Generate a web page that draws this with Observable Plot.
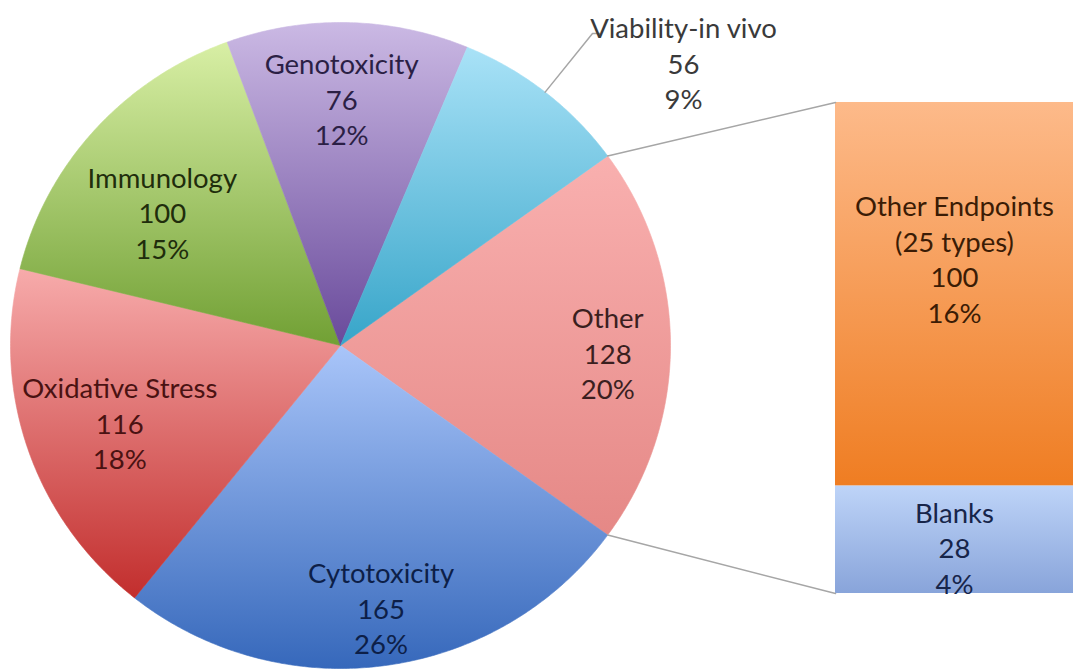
<!DOCTYPE html>
<html><head><meta charset="utf-8">
<script src="https://cdn.jsdelivr.net/npm/d3@7"></script>
<script src="https://cdn.jsdelivr.net/npm/@observablehq/plot@0.6"></script>
<style>body{margin:0;background:#fff;overflow:hidden;}</style>
</head><body><div id="chart"></div>
<script>
// ---------- data ----------
const categories = ["Other", "Cytotoxicity", "Oxidative Stress", "Immunology", "Genotoxicity", "Viability-in vivo"];
const counts = [128, 165, 116, 100, 76, 56];
const percentLabels = ["20%", "26%", "18%", "15%", "12%", "9%"];
const barCategories = ["Other Endpoints\n(25 types)", "Blanks"];
const barCounts = [100, 28];
const barPercentLabels = ["16%", "4%"];

// ---------- styling / layout ----------
const sliceGrad = [["#f9b0af", "#e58886"], ["#a9c5f9", "#3668bb"], ["#f7abab", "#c22e2d"],
                   ["#d8efa5", "#71a034"], ["#cbb9e4", "#694a9b"], ["#a9e2f7", "#37a5c9"]];
const sliceText = ["#3b1f1f", "#0d1f48", "#4a1212", "#1f2d0c", "#2b1f45", "#3a3a3a"];
const barGrad = [["#fdba8a", "#ef7d22"], ["#bed4f8", "#88a4da"]];
const barText = ["#3b1c05", "#17254a"];
// label placement: [radial fraction, angle offset in degrees]; null = outside label
const labelPlace = [[0.81, 1.5], [0.82, -0.9], [0.71, -0.8], [0.68, -4.4], [0.765, -1], null];
const barLabelShift = [-36, 7];
const W = 1073, H = 670;
const cx = 340, cy = 345, rx = 330, ry = 323;
const barX0 = 835, barX1 = 1073, barTop = 102, barBottom = 593;
const font = "Lato, 'Open Sans', sans-serif";
const fontSize = 27.5, lineH = 1.29;

// ---------- geometry from data ----------
const total = d3.sum(counts);
const otherSpan = counts[0] / total * 2 * Math.PI;
const a0 = Math.PI / 2 - otherSpan / 2;
const slices = d3.pie().sort(null).value(d => d.count).startAngle(a0).endAngle(a0 + 2 * Math.PI)(
  categories.map((c, i) => ({name: c, count: counts[i], pct: percentLabels[i], i})));
const pt = (a, r = 1) => ({x: cx + rx * r * Math.sin(a), y: cy - ry * r * Math.cos(a)});

const slicePolys = slices.map(s => {
  const pts = [pt(0, 0)];
  const n = Math.max(2, Math.ceil((s.endAngle - s.startAngle) / (Math.PI / 360)));
  for (let k = 0; k <= n; k++) pts.push(pt(s.startAngle + (s.endAngle - s.startAngle) * k / n));
  pts.push(pt(0, 0));
  return pts;
});

const inLabels = [];
slices.forEach((s, i) => {
  const p = labelPlace[i];
  if (!p) return;
  const mid = (s.startAngle + s.endAngle) / 2 + p[1] * Math.PI / 180;
  const q = pt(mid, p[0]);
  inLabels.push({x: q.x, y: q.y, text: `${s.data.name}\n${s.data.count}\n${s.data.pct}`, color: sliceText[i]});
});

// outside label (Viability-in vivo)
const vs = slices[5];
const vMid = (vs.startAngle + vs.endAngle) / 2;
const vEdge = pt(vMid, 1.0);
const vLabel = {x: 683, y: 62, text: `${vs.data.name}\n${vs.data.count}\n${vs.data.pct}`, color: sliceText[5]};
const leader = [vEdge, {x: vLabel.x - 91, y: vLabel.y - 29}, {x: vLabel.x - 84, y: vLabel.y - 29}];

// bar of "Other"
const barTotal = d3.sum(barCounts);
const by = d3.scaleLinear().domain([0, barTotal]).range([barBottom, barTop]);
const barRows = [];
{
  let cum = 0;
  for (let i = barCounts.length - 1; i >= 0; i--) {
    barRows[i] = {i, y1: by(cum), y2: by(cum + barCounts[i]), x1: barX0, x2: barX1,
      text: `${barCategories[i]}\n${barCounts[i]}\n${barPercentLabels[i]}`, color: barText[i]};
    cum += barCounts[i];
  }
}
const barLabels = barRows.map(r => ({x: (r.x1 + r.x2) / 2, y: (r.y1 + r.y2) / 2 + barLabelShift[r.i], text: r.text, color: r.color}));

const connectors = [
  [pt(slices[0].startAngle), {x: barX0, y: by(barTotal)}],
  [pt(slices[0].endAngle), {x: barX0, y: by(0)}]
];

// ---------- plot ----------
const marks = [];
slicePolys.forEach((poly, i) => {
  marks.push(Plot.line(poly, {x: "x", y: "y", fill: `url(#sg${i})`, stroke: `url(#sg${i})`, strokeWidth: 0.6, curve: "linear"}));
});
barRows.forEach(r => {
  marks.push(Plot.rect([r], {x1: "x1", x2: "x2", y1: "y1", y2: "y2", fill: `url(#bg${r.i})`}));
});
connectors.forEach(c => marks.push(Plot.line(c, {x: "x", y: "y", stroke: "#a6a6a6", strokeWidth: 1.5})));
marks.push(Plot.line(leader, {x: "x", y: "y", stroke: "#a6a6a6", strokeWidth: 1.5}));
const textOpts = {x: "x", y: "y", text: "text", fill: "color", fontFamily: font, fontSize, lineHeight: lineH, textAnchor: "middle"};
marks.push(Plot.text(inLabels, textOpts));
marks.push(Plot.text([vLabel], textOpts));
marks.push(Plot.text(barLabels, textOpts));

const svg = Plot.plot({
  width: W, height: H, margin: 0,
  x: {domain: [0, W], range: [0, W], axis: null},
  y: {domain: [0, H], range: [0, H], axis: null},
  color: {type: "identity"},
  style: {background: "#fff"},
  marks
});

const defs = d3.select(svg).insert("defs", ":first-child");
const addGrad = (id, [c0, c1]) => {
  const g = defs.append("linearGradient").attr("id", id).attr("x1", 0).attr("y1", 0).attr("x2", 0).attr("y2", 1);
  g.append("stop").attr("offset", "0%").attr("stop-color", c0);
  g.append("stop").attr("offset", "100%").attr("stop-color", c1);
};
sliceGrad.forEach((c, i) => addGrad(`sg${i}`, c));
barGrad.forEach((c, i) => addGrad(`bg${i}`, c));

document.getElementById("chart").append(svg);
</script>
</body></html>
